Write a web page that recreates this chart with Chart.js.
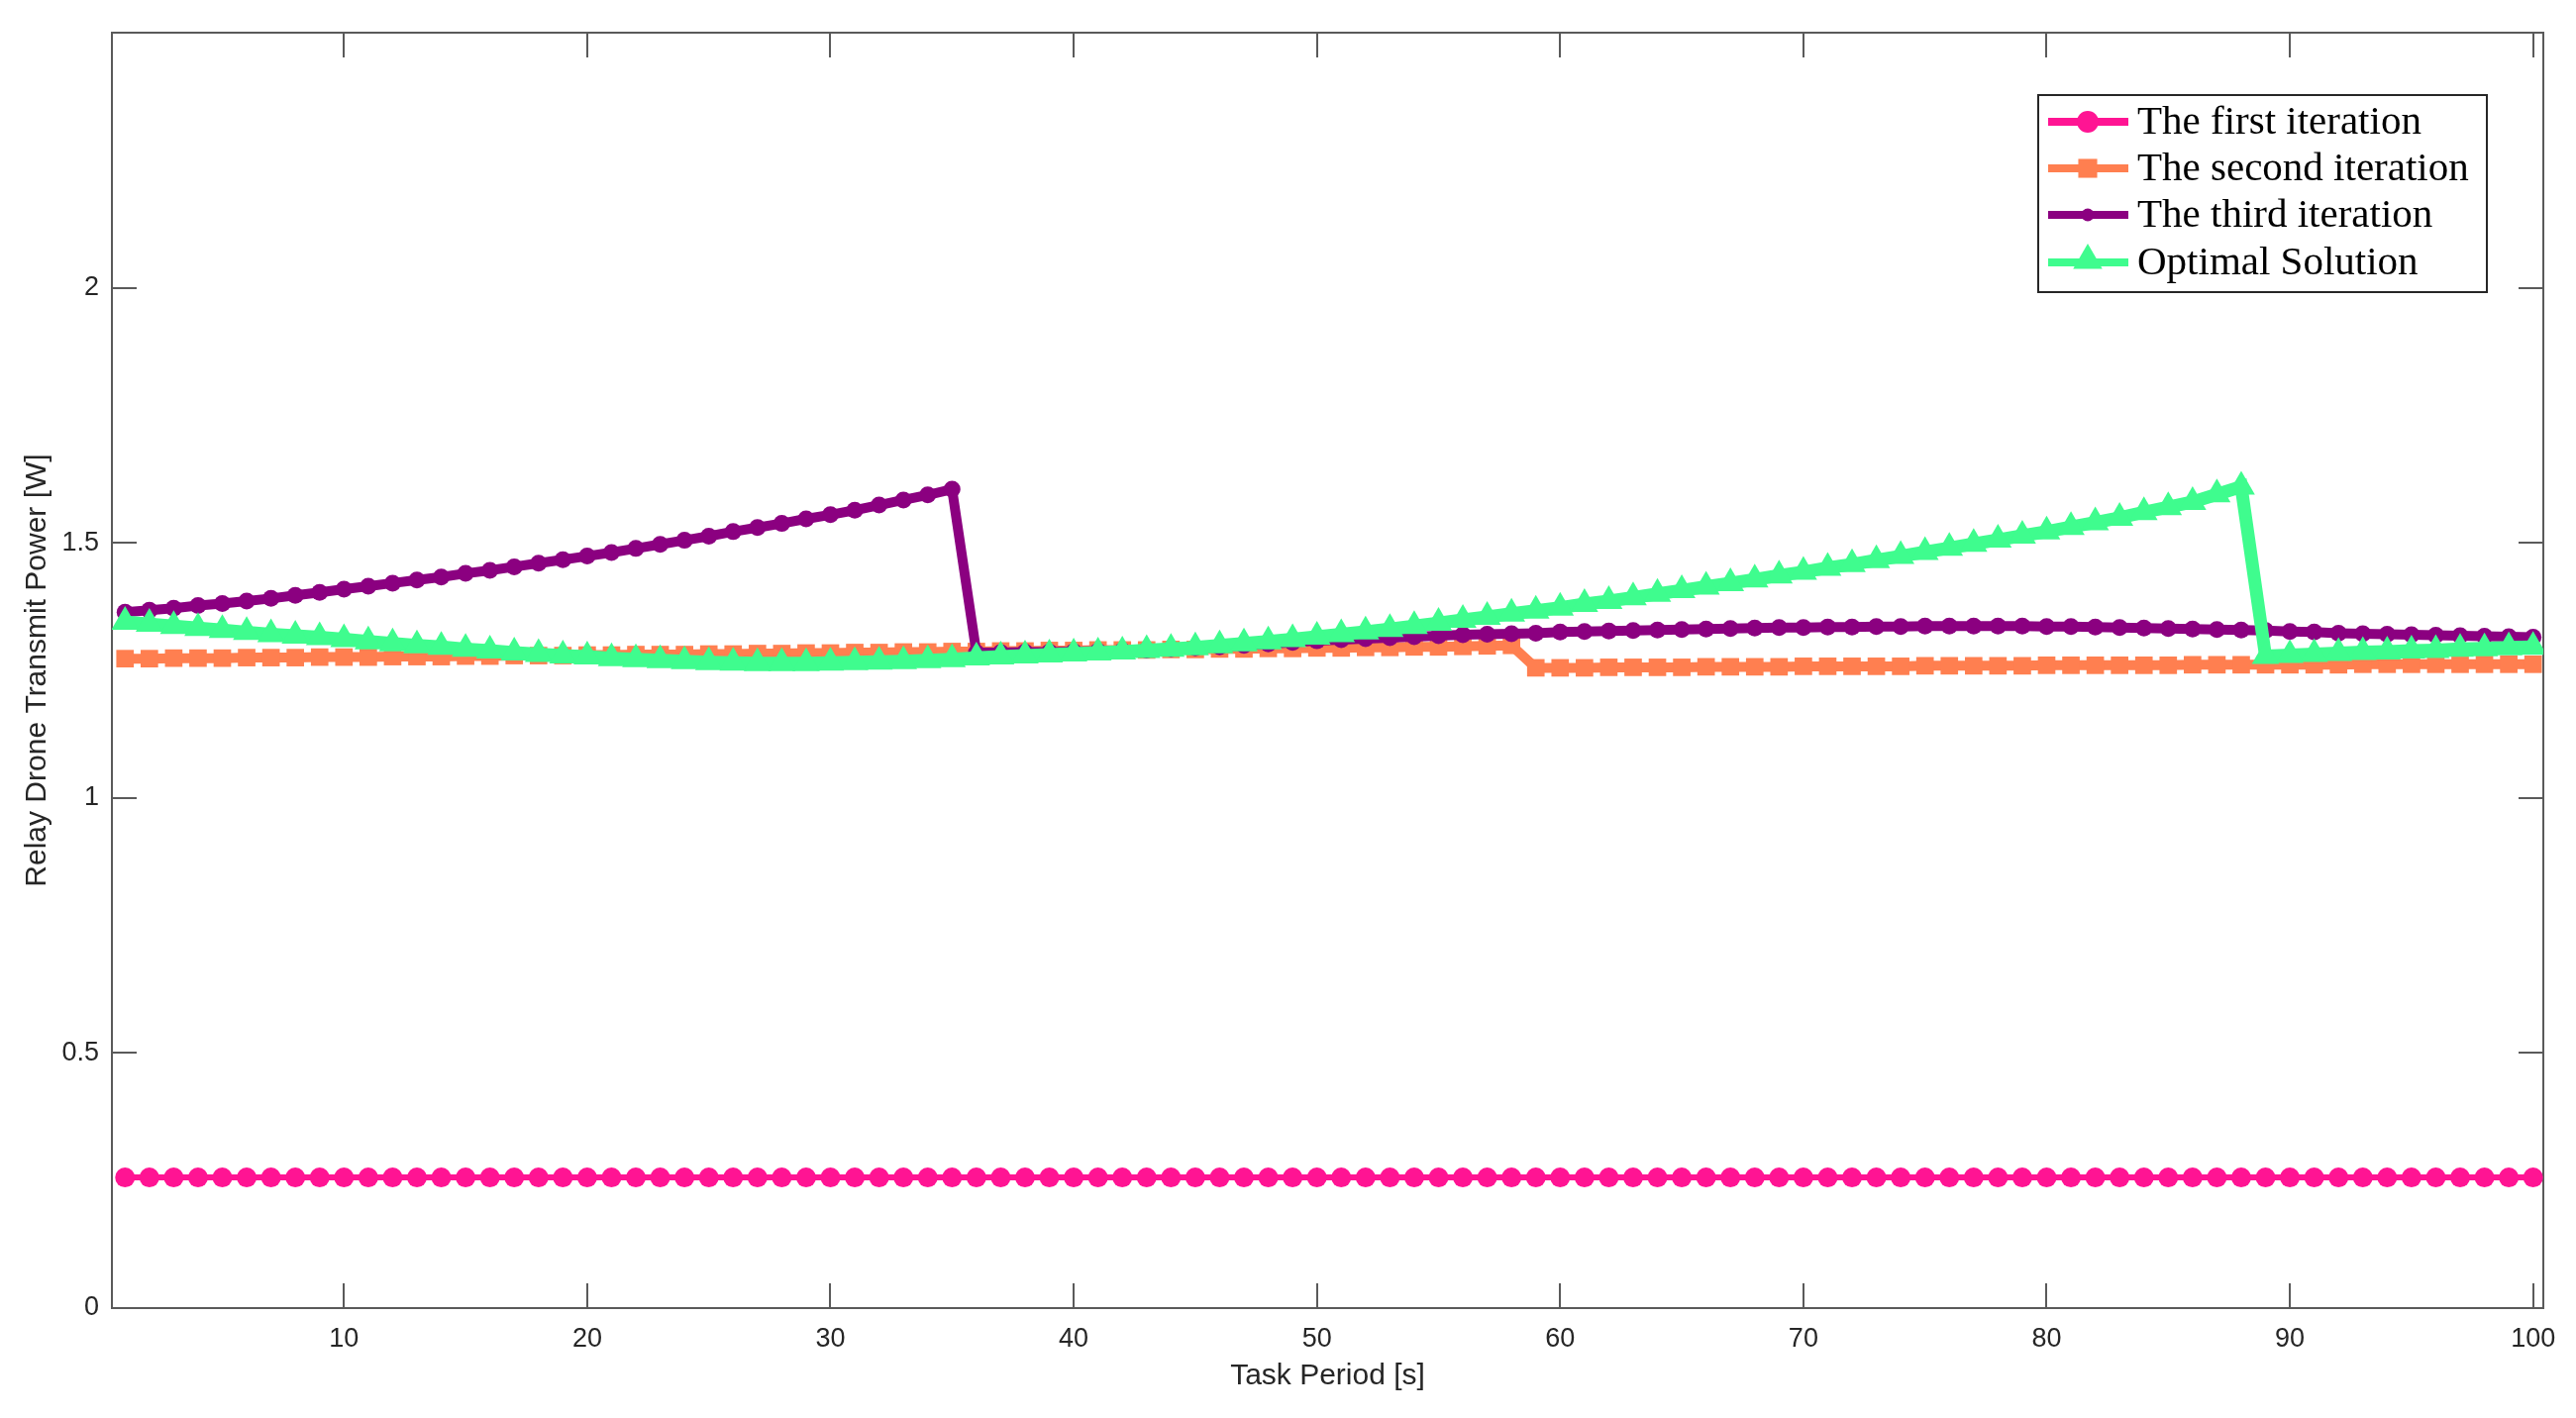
<!DOCTYPE html>
<html>
<head>
<meta charset="utf-8">
<title>Relay Drone Transmit Power</title>
<script src="https://cdn.jsdelivr.net/npm/chart.js@4.4.1/dist/chart.umd.min.js"></script>
<style>
  html, body { margin: 0; padding: 0; background: #ffffff; }
  #wrap { width: 2601px; height: 1432px; }
</style>
</head>
<body>
<div id="wrap"><canvas id="chart" width="2601" height="1432"></canvas></div>
<script>
const TASK_PERIOD = [
  1, 2, 3, 4, 5, 6, 7, 8, 9, 10, 11, 12, 13, 14, 15, 16, 17, 18, 19, 20,
  21, 22, 23, 24, 25, 26, 27, 28, 29, 30, 31, 32, 33, 34, 35, 36, 37, 38, 39, 40,
  41, 42, 43, 44, 45, 46, 47, 48, 49, 50, 51, 52, 53, 54, 55, 56, 57, 58, 59, 60,
  61, 62, 63, 64, 65, 66, 67, 68, 69, 70, 71, 72, 73, 74, 75, 76, 77, 78, 79, 80,
  81, 82, 83, 84, 85, 86, 87, 88, 89, 90, 91, 92, 93, 94, 95, 96, 97, 98, 99, 100,
];

const FIRST_ITERATION = [
  0.256, 0.256, 0.256, 0.256, 0.256, 0.256, 0.256, 0.256, 0.256, 0.256,
  0.256, 0.256, 0.256, 0.256, 0.256, 0.256, 0.256, 0.256, 0.256, 0.256,
  0.256, 0.256, 0.256, 0.256, 0.256, 0.256, 0.256, 0.256, 0.256, 0.256,
  0.256, 0.256, 0.256, 0.256, 0.256, 0.256, 0.256, 0.256, 0.256, 0.256,
  0.256, 0.256, 0.256, 0.256, 0.256, 0.256, 0.256, 0.256, 0.256, 0.256,
  0.256, 0.256, 0.256, 0.256, 0.256, 0.256, 0.256, 0.256, 0.256, 0.256,
  0.256, 0.256, 0.256, 0.256, 0.256, 0.256, 0.256, 0.256, 0.256, 0.256,
  0.256, 0.256, 0.256, 0.256, 0.256, 0.256, 0.256, 0.256, 0.256, 0.256,
  0.256, 0.256, 0.256, 0.256, 0.256, 0.256, 0.256, 0.256, 0.256, 0.256,
  0.256, 0.256, 0.256, 0.256, 0.256, 0.256, 0.256, 0.256, 0.256, 0.256,
];

const SECOND_ITERATION = [
  1.273, 1.273, 1.274, 1.274, 1.274, 1.275, 1.275, 1.275, 1.276, 1.276,
  1.276, 1.277, 1.277, 1.277, 1.278, 1.278, 1.279, 1.279, 1.279, 1.280,
  1.280, 1.281, 1.281, 1.281, 1.282, 1.282, 1.283, 1.283, 1.284, 1.284,
  1.285, 1.285, 1.286, 1.286, 1.287, 1.287, 1.288, 1.288, 1.289, 1.289,
  1.290, 1.290, 1.290, 1.291, 1.291, 1.292, 1.292, 1.293, 1.293, 1.294,
  1.294, 1.295, 1.295, 1.296, 1.296, 1.297, 1.298, 1.299, 1.255, 1.255,
  1.255, 1.256, 1.256, 1.256, 1.256, 1.257, 1.257, 1.257, 1.257, 1.258,
  1.258, 1.258, 1.258, 1.258, 1.259, 1.259, 1.259, 1.259, 1.259, 1.260,
  1.260, 1.260, 1.260, 1.260, 1.260, 1.261, 1.261, 1.261, 1.261, 1.261,
  1.261, 1.261, 1.262, 1.262, 1.262, 1.262, 1.262, 1.262, 1.262, 1.262,
];

const THIRD_ITERATION = [
  1.364, 1.368, 1.372, 1.377, 1.381, 1.386, 1.391, 1.397, 1.403, 1.409,
  1.415, 1.421, 1.427, 1.433, 1.440, 1.446, 1.453, 1.460, 1.467, 1.474,
  1.481, 1.489, 1.497, 1.505, 1.513, 1.522, 1.530, 1.538, 1.547, 1.555,
  1.564, 1.574, 1.584, 1.594, 1.605, 1.285, 1.285, 1.286, 1.286, 1.287,
  1.288, 1.289, 1.290, 1.292, 1.294, 1.296, 1.299, 1.302, 1.305, 1.308,
  1.310, 1.312, 1.314, 1.316, 1.318, 1.320, 1.321, 1.322, 1.323, 1.325,
  1.326, 1.327, 1.328, 1.329, 1.330, 1.331, 1.332, 1.333, 1.334, 1.334,
  1.335, 1.335, 1.336, 1.336, 1.337, 1.337, 1.337, 1.337, 1.337, 1.336,
  1.336, 1.335, 1.334, 1.333, 1.332, 1.331, 1.330, 1.329, 1.328, 1.326,
  1.325, 1.323, 1.322, 1.321, 1.320, 1.319, 1.318, 1.317, 1.316, 1.315,
];

const OPTIMAL_SOLUTION = [
  1.345, 1.341, 1.337, 1.333, 1.329, 1.325, 1.321, 1.318, 1.315, 1.311,
  1.307, 1.303, 1.299, 1.296, 1.292, 1.289, 1.285, 1.282, 1.279, 1.277,
  1.274, 1.272, 1.270, 1.268, 1.266, 1.265, 1.264, 1.264, 1.264, 1.265,
  1.266, 1.267, 1.268, 1.270, 1.272, 1.275, 1.277, 1.279, 1.281, 1.283,
  1.285, 1.287, 1.290, 1.292, 1.295, 1.299, 1.303, 1.307, 1.311, 1.316,
  1.321, 1.326, 1.331, 1.337, 1.343, 1.349, 1.355, 1.361, 1.367, 1.373,
  1.380, 1.386, 1.393, 1.400, 1.407, 1.414, 1.421, 1.428, 1.436, 1.443,
  1.451, 1.458, 1.466, 1.474, 1.482, 1.490, 1.498, 1.506, 1.514, 1.522,
  1.531, 1.540, 1.549, 1.560, 1.570, 1.580, 1.595, 1.610, 1.278, 1.280,
  1.282, 1.284, 1.286, 1.287, 1.289, 1.290, 1.292, 1.293, 1.295, 1.296,
];

const X_TICKS = [10, 20, 30, 40, 50, 60, 70, 80, 90, 100];
const Y_TICKS = [0, 0.5, 1, 1.5, 2];

const SERIES = [
  { label: "The first iteration", values: FIRST_ITERATION, color: "#ff1493", width: 6, marker: "circle", radius: 10, order: 3 },
  { label: "The second iteration", values: SECOND_ITERATION, color: "#ff7f50", width: 10, marker: "rect", radius: 12.5, order: 2 },
  { label: "The third iteration", values: THIRD_ITERATION, color: "#8b0080", width: 10, marker: "circle", radius: 8.5, order: 1 },
  { label: "Optimal Solution", values: OPTIMAL_SOLUTION, color: "#3ffc8e", width: 13, marker: "triangle", radius: 16, order: 0 },
];

const AXIS_COLOR = "#262626";
const BOX_COLOR = "#5a5a5a";
const TICK_LEN = 25;

function toPoints(values) {
  return TASK_PERIOD.map((x, i) => ({ x, y: values[i] }));
}

function drawMarker(ctx, style, x, y, r) {
  ctx.beginPath();
  if (style === "circle") {
    ctx.arc(x, y, r, 0, Math.PI * 2);
  } else if (style === "rect") {
    const s = r * Math.SQRT1_2;
    ctx.rect(x - s, y - s, 2 * s, 2 * s);
  } else {
    ctx.moveTo(x, y - r);
    ctx.lineTo(x + r * 0.866, y + r * 0.5);
    ctx.lineTo(x - r * 0.866, y + r * 0.5);
    ctx.closePath();
  }
  ctx.fill();
}

const boxPlugin = {
  id: "boxPlugin",
  beforeDatasetsDraw(chart) {
    const { ctx, chartArea: a, scales } = chart;
    ctx.save();
    ctx.strokeStyle = BOX_COLOR;
    ctx.lineWidth = 2;
    ctx.strokeRect(a.left, a.top, a.right - a.left, a.bottom - a.top);
    ctx.beginPath();
    X_TICKS.forEach((v) => {
      const px = Math.round(scales.x.getPixelForValue(v));
      ctx.moveTo(px, a.bottom);
      ctx.lineTo(px, a.bottom - TICK_LEN);
      ctx.moveTo(px, a.top);
      ctx.lineTo(px, a.top + TICK_LEN);
    });
    Y_TICKS.forEach((v) => {
      const py = Math.round(scales.y.getPixelForValue(v));
      ctx.moveTo(a.left, py);
      ctx.lineTo(a.left + TICK_LEN, py);
      ctx.moveTo(a.right, py);
      ctx.lineTo(a.right - TICK_LEN, py);
    });
    ctx.stroke();
    ctx.restore();
  },
  afterDraw(chart) {
    const { ctx } = chart;
    const left = 2058, top = 96, right = 2511, bottom = 295;
    ctx.save();
    ctx.fillStyle = "#ffffff";
    ctx.fillRect(left, top, right - left, bottom - top);
    ctx.strokeStyle = AXIS_COLOR;
    ctx.lineWidth = 2;
    ctx.strokeRect(left, top, right - left, bottom - top);
    const rows = [123, 170, 217, 265];
    SERIES.forEach((s, i) => {
      const y = rows[i];
      ctx.strokeStyle = s.color;
      ctx.fillStyle = s.color;
      ctx.lineWidth = 8;
      ctx.beginPath();
      ctx.moveTo(2068, y);
      ctx.lineTo(2149, y);
      ctx.stroke();
      const r = s.marker === "triangle" ? 17 : s.marker === "circle" && i === 2 ? 6.5 : s.radius + 1;
      drawMarker(ctx, s.marker, 2108, s.marker === "triangle" ? y - 2 : y, r);
      ctx.fillStyle = "#000000";
      ctx.font = '41px "Liberation Serif", "Times New Roman", serif';
      ctx.textBaseline = "middle";
      ctx.textAlign = "left";
      ctx.fillText(s.label, 2158, y + 1);
    });
    ctx.restore();
  },
};

new Chart(document.getElementById("chart"), {
  type: "line",
  data: {
    datasets: SERIES.map((s) => ({
      label: s.label,
      data: toPoints(s.values),
      borderColor: s.color,
      backgroundColor: s.color,
      borderWidth: s.width,
      pointStyle: s.marker,
      pointRadius: s.radius,
      pointBorderWidth: 0,
      pointBackgroundColor: s.color,
      pointHoverRadius: s.radius,
      tension: 0,
      fill: false,
      order: s.order,
    })),
  },
  options: {
    responsive: false,
    animation: false,
    devicePixelRatio: 1,
    layout: { padding: { left: 0, right: 33, top: 33, bottom: 0 } },
    plugins: {
      legend: { display: false },
      tooltip: { enabled: false },
    },
    scales: {
      x: {
        type: "linear",
        min: 0.46,
        max: 100.42,
        afterBuildTicks: (scale) => {
          scale.ticks = X_TICKS.map((value) => ({ value }));
        },
        afterFit: (scale) => {
          scale.height = 111;
        },
        grid: { display: false, drawTicks: false },
        border: { display: false },
        ticks: {
          color: AXIS_COLOR,
          padding: 15,
          maxRotation: 0,
          autoSkip: false,
          callback: (value) => String(value),
          font: { family: '"Liberation Sans", Arial, sans-serif', size: 27 },
        },
        title: {
          display: true,
          text: "Task Period [s]",
          color: AXIS_COLOR,
          padding: { top: 0, bottom: 24 },
          font: { family: '"Liberation Sans", Arial, sans-serif', size: 30 },
        },
      },
      y: {
        type: "linear",
        min: 0,
        max: 2.5,
        afterBuildTicks: (scale) => {
          scale.ticks = Y_TICKS.map((value) => ({ value }));
        },
        afterFit: (scale) => {
          scale.width = 113;
        },
        grid: { display: false, drawTicks: false },
        border: { display: false },
        ticks: {
          color: AXIS_COLOR,
          padding: 13,
          autoSkip: false,
          callback: (value) => String(value),
          font: { family: '"Liberation Sans", Arial, sans-serif', size: 27 },
        },
        title: {
          display: true,
          text: "Relay Drone Transmit Power [W]",
          color: AXIS_COLOR,
          padding: { top: 20, bottom: 0 },
          font: { family: '"Liberation Sans", Arial, sans-serif', size: 30 },
        },
      },
    },
  },
  plugins: [boxPlugin],
});
</script>
</body>
</html>
